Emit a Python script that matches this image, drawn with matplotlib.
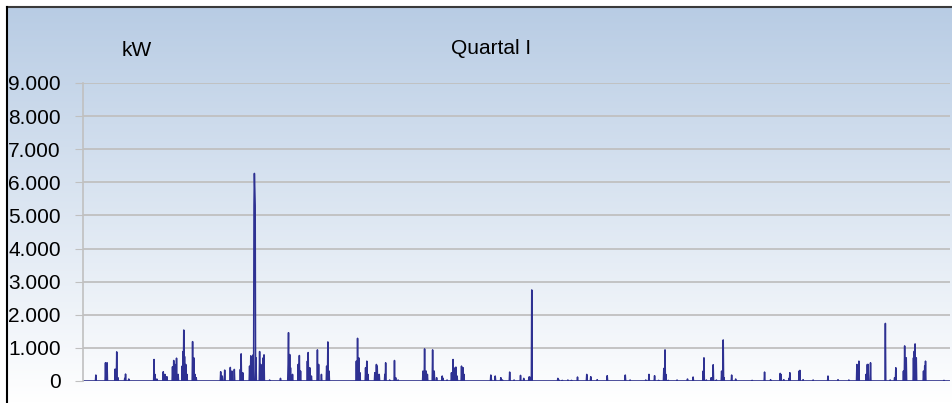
import numpy as np
import matplotlib
matplotlib.use("Agg")
import matplotlib.pyplot as plt
from matplotlib.lines import Line2D
from matplotlib.ticker import FuncFormatter

plt.rcParams['font.family'] = ['Liberation Sans', 'DejaVu Sans']

# spikes: day of the quarter, load in kW
spike_day = [1.35, 2.34, 2.49, 3.32, 3.50, 3.63, 4.33, 4.43, 4.74,
             7.37, 7.44, 7.68, 8.34, 8.48, 8.72, 9.31, 9.42, 9.55, 9.69, 9.86,
             10.28, 10.38, 10.45, 10.56, 10.66, 10.80, 11.39, 11.49, 11.63, 11.76,
             14.29, 14.46, 14.71, 15.29, 15.47, 15.71, 16.33, 16.43, 16.58,
             17.31, 17.41, 17.54, 17.68, 17.74, 17.78, 17.82, 17.86, 17.96,
             18.34, 18.45, 18.69, 18.79, 19.38, 20.48,
             21.28, 21.35, 21.46, 21.56, 21.73, 22.32, 22.45, 22.60,
             23.28, 23.39, 23.53, 23.70, 24.32, 24.47, 24.74, 25.30, 25.40, 25.54,
             28.37, 28.48, 28.62, 28.76, 29.35, 29.45, 29.59,
             30.28, 30.45, 30.55, 30.76, 31.32, 31.42, 31.84, 32.32, 32.46, 32.70,
             35.30, 35.47, 35.64, 35.74, 36.30, 36.44, 36.72, 37.30, 37.37, 37.79,
             38.27, 38.41, 38.51, 38.72, 38.83, 39.31, 39.45, 39.55,
             42.32, 42.39, 42.80, 43.36, 43.53, 44.30, 44.74, 45.40, 45.75,
             46.30, 46.37, 46.58, 49.28, 49.38, 49.73, 50.35, 50.69, 51.35,
             52.29, 52.70, 53.36, 54.43, 56.30, 56.78, 58.41, 58.76, 59.35, 59.76,
             60.31, 60.42, 60.49, 60.73, 61.66, 62.77, 63.32, 64.36, 64.44, 64.71,
             65.22, 65.40, 65.74, 66.30, 66.44, 66.54, 67.34, 67.76, 69.45,
             70.73, 71.39, 72.36, 72.46, 72.77, 73.29, 73.36, 74.33, 74.43, 74.74,
             75.78, 77.34, 78.38, 79.52, 80.32, 80.42, 80.53,
             81.31, 81.42, 81.52, 81.77, 83.29, 83.78, 84.26, 84.36,
             85.16, 85.30, 85.47, 86.19, 86.30, 86.37, 86.48,
             87.23, 87.37, 87.47, 89.38]
spike_kw = [180, 550, 550, 360, 880, 100, 80, 210, 60,
            650, 200, 60, 280, 200, 130, 430, 620, 500, 690, 200,
            450, 890, 1540, 740, 500, 200, 1190, 700, 200, 100,
            280, 150, 330, 410, 300, 350, 350, 820, 250,
            450, 760, 500, 790, 5300, 6270, 5800, 5300, 700,
            890, 500, 700, 790, 30, 80,
            500, 1460, 800, 400, 200, 500, 770, 300,
            600, 860, 400, 150, 940, 500, 200, 450, 1180, 300,
            600, 1290, 700, 250, 400, 600, 200,
            250, 500, 450, 200, 200, 550, 30, 620, 100, 30,
            300, 970, 300, 200, 940, 300, 100, 150, 80, 30,
            250, 650, 400, 420, 150, 450, 400, 200,
            180, 100, 150, 100, 30, 270, 30, 170, 80,
            120, 120, 2750, 80, 40, 20, 30, 20, 120,
            200, 130, 40, 160, 180, 30, 30, 200, 160, 20,
            380, 940, 200, 20, 30, 60, 120, 300, 700, 30,
            100, 490, 30, 300, 1240, 100, 180, 60, 20,
            270, 40, 230, 200, 40, 80, 250, 300, 320, 40,
            30, 150, 40, 30, 500, 400, 600,
            200, 500, 500, 550, 1740, 30, 100, 400,
            300, 1060, 700, 700, 900, 1120, 700,
            300, 450, 600, 20]

# hourly series over the quarter
hours = np.arange(90 * 24 + 1)
load = np.zeros(len(hours))
for d, v in zip(spike_day, spike_kw):
    i = int(round(d * 24))
    load[i] = max(load[i], v)

fig = plt.figure(figsize=(9.52, 4.03), dpi=100)

# gradient chart area background
bg = fig.add_axes([7 / 952, 0, 1 - 7 / 952, 396 / 403])
bg.axis('off')
top = np.array([184, 204, 228]) / 255.0
grad = np.linspace(0, 1, 256)[:, None]
img = top[None, :] * (1 - grad) + np.ones(3)[None, :] * grad
bg.imshow(img[:, None, :], aspect='auto', extent=[0, 1, 0, 1])
fig.add_artist(Line2D([7 / 952, 1], [396 / 403, 396 / 403], color='#3a3a3a', lw=1.5))
fig.add_artist(Line2D([7.3 / 952, 7.3 / 952], [0, 396 / 403], color='black', lw=1.5))

ax = fig.add_axes([83 / 952, 22 / 403, 867 / 952, 298 / 403])
ax.patch.set_alpha(0)
ax.plot(hours / 24.0, load, color='#2e3192', lw=1.1)
ax.set_xlim(0, 90)
ax.set_ylim(0, 9000)
ax.set_yticks(np.arange(0, 9001, 1000))
ax.yaxis.set_major_formatter(FuncFormatter(lambda v, p: '{:,.0f}'.format(v).replace(',', '.')))
ax.grid(axis='y', color='#c0c0c0', lw=1.3)
ax.set_axisbelow(True)
ax.set_xticks([])
for s in ['top', 'right', 'bottom']:
    ax.spines[s].set_visible(False)
ax.spines['left'].set_color('#c0c0c0')
ax.spines['left'].set_linewidth(1.2)
ax.tick_params(axis='y', length=6, color='#c0c0c0', labelsize=15, pad=10)

fig.text(137 / 952, 1 - 50 / 403, 'kW', fontsize=15, ha='center', va='center')
fig.text(491 / 952, 1 - 48 / 403, 'Quartal I', fontsize=15, ha='center', va='center')

fig.savefig('out.png', dpi=100)
